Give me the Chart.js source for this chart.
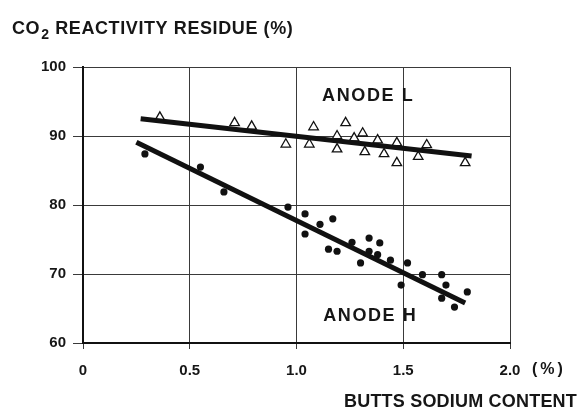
<!DOCTYPE html>
<html>
<head>
<meta charset="utf-8">
<script src="https://cdn.jsdelivr.net/npm/chart.js@4"></script>
<style>
  html, body { margin: 0; padding: 0; background: #fff; }
  #wrap { width: 579px; height: 414px; }
</style>
</head>
<body>
<div id="wrap"><canvas id="co2Chart" width="579" height="414"></canvas></div>
<script>
// Anode L (open triangles) - butts sodium content (%) vs CO2 reactivity residue (%)
const anodeLx = [0.36, 0.71, 0.79, 0.95, 1.06, 1.08, 1.19, 1.19, 1.23, 1.27, 1.31, 1.32, 1.38, 1.41, 1.47, 1.47, 1.57, 1.61, 1.79];
const anodeLy = [92.7, 91.9, 91.4, 88.8, 88.8, 91.3, 90.0, 88.1, 91.9, 89.7, 90.4, 87.7, 89.4, 87.4, 89.0, 86.1, 87.0, 88.7, 86.1];

// Anode H (filled dots)
const anodeHx = [0.29, 0.55, 0.66, 0.96, 1.04, 1.04, 1.11, 1.17, 1.15, 1.19, 1.26, 1.34, 1.39, 1.30, 1.34, 1.38, 1.44, 1.52, 1.49, 1.59, 1.68, 1.70, 1.68, 1.74, 1.80];
const anodeHy = [87.4, 85.5, 81.9, 79.7, 78.7, 75.8, 77.2, 78.0, 73.6, 73.3, 74.6, 75.2, 74.5, 71.6, 73.3, 72.8, 72.0, 71.6, 68.4, 69.9, 69.9, 68.4, 66.5, 65.2, 67.4];

// Regression lines (end points)
const fitLx = [0.27, 1.82];
const fitLy = [92.5, 87.1];
const fitHx = [0.25, 1.79];
const fitHy = [89.1, 65.8];

// Axis ticks
const xTicks = [0, 0.5, 1.0, 1.5, 2.0];
const yTicks = [60, 70, 80, 90, 100];

// Text labels and where they sit (data units)
const labelL = { text: 'ANODE L', x: 1.12, y: 95.8 };
const labelH = { text: 'ANODE H', x: 1.125, y: 63.9 };

const FONT = '"Liberation Sans", Arial, Helvetica, sans-serif';
const INK = '#161616';

function toPoints(xs, ys) {
    return xs.map((x, i) => ({ x: x, y: ys[i] }));
}

// Draws title, axis title, "(%)" and the ANODE labels
const textPlugin = {
    id: 'textPlugin',
    afterDraw(chart) {
        const ctx = chart.ctx;
        const xs = chart.scales.x;
        const ys = chart.scales.y;
        ctx.save();
        ctx.fillStyle = INK;
        ctx.textBaseline = 'alphabetic';
        ctx.letterSpacing = '0.6px';

        // y axis title with subscript
        ctx.font = 'bold 18px ' + FONT;
        let x = 12;
        ctx.fillText('CO', x, 34);
        x += ctx.measureText('CO').width;
        ctx.font = 'bold 14px ' + FONT;
        ctx.fillText('2', x + 1, 39);
        x += ctx.measureText('2').width + 1;
        ctx.font = 'bold 18px ' + FONT;
        ctx.fillText(' REACTIVITY RESIDUE (%)', x, 34);

        // unit next to the last x tick
        ctx.font = 'bold 16px ' + FONT;
        ctx.letterSpacing = '3px';
        ctx.textBaseline = 'middle';
        ctx.fillText('(%)', 532, 370);

        // x axis title
        ctx.letterSpacing = '0.2px';
        ctx.font = 'bold 18px ' + FONT;
        ctx.textAlign = 'right';
        ctx.fillText('BUTTS SODIUM CONTENT', 577, 402);

        // series labels
        ctx.textAlign = 'left';
        ctx.letterSpacing = '1.6px';
        [labelL, labelH].forEach(l => {
            ctx.fillText(l.text, xs.getPixelForValue(l.x), ys.getPixelForValue(l.y));
        });
        ctx.restore();
    }
};

const ctx = document.getElementById('co2Chart').getContext('2d');
new Chart(ctx, {
    type: 'scatter',
    data: {
        datasets: [
            {
                label: 'Anode L fit',
                type: 'line',
                data: toPoints(fitLx, fitLy),
                borderColor: '#111',
                borderWidth: 5,
                pointRadius: 0,
                fill: false
            },
            {
                label: 'Anode H fit',
                type: 'line',
                data: toPoints(fitHx, fitHy),
                borderColor: '#111',
                borderWidth: 5,
                pointRadius: 0,
                fill: false
            },
            {
                label: 'Anode L',
                data: toPoints(anodeLx, anodeLy),
                pointStyle: 'triangle',
                pointRadius: 5.5,
                backgroundColor: '#fff',
                borderColor: '#111',
                borderWidth: 1.3
            },
            {
                label: 'Anode H',
                data: toPoints(anodeHx, anodeHy),
                pointStyle: 'circle',
                pointRadius: 3.6,
                backgroundColor: '#111',
                borderColor: '#111',
                borderWidth: 0
            }
        ]
    },
    options: {
        responsive: false,
        animation: false,
        devicePixelRatio: 1,
        layout: { padding: { top: 67, right: 69, left: 0, bottom: 0 } },
        plugins: {
            legend: { display: false },
            tooltip: { enabled: false }
        },
        scales: {
            x: {
                type: 'linear',
                min: 0,
                max: 2.0,
                afterBuildTicks: s => { s.ticks = xTicks.map(v => ({ value: v })); },
                afterFit: s => { s.height = 71; },
                ticks: {
                    color: INK,
                    padding: 13,
                    font: { family: FONT, size: 15, weight: 'bold' },
                    callback: v => (v === 0 ? '0' : v.toFixed(1))
                },
                grid: { color: '#3a3a3a', lineWidth: 1, tickLength: 6 },
                border: { color: '#111', width: 2 }
            },
            y: {
                type: 'linear',
                min: 60,
                max: 100,
                afterBuildTicks: s => { s.ticks = yTicks.map(v => ({ value: v })); },
                afterFit: s => { s.width = 83; },
                ticks: {
                    color: INK,
                    padding: 7,
                    font: { family: FONT, size: 15, weight: 'bold' }
                },
                grid: { color: '#3a3a3a', lineWidth: 1, tickLength: 10 },
                border: { color: '#111', width: 2 }
            }
        }
    },
    plugins: [textPlugin]
});
</script>
</body>
</html>
